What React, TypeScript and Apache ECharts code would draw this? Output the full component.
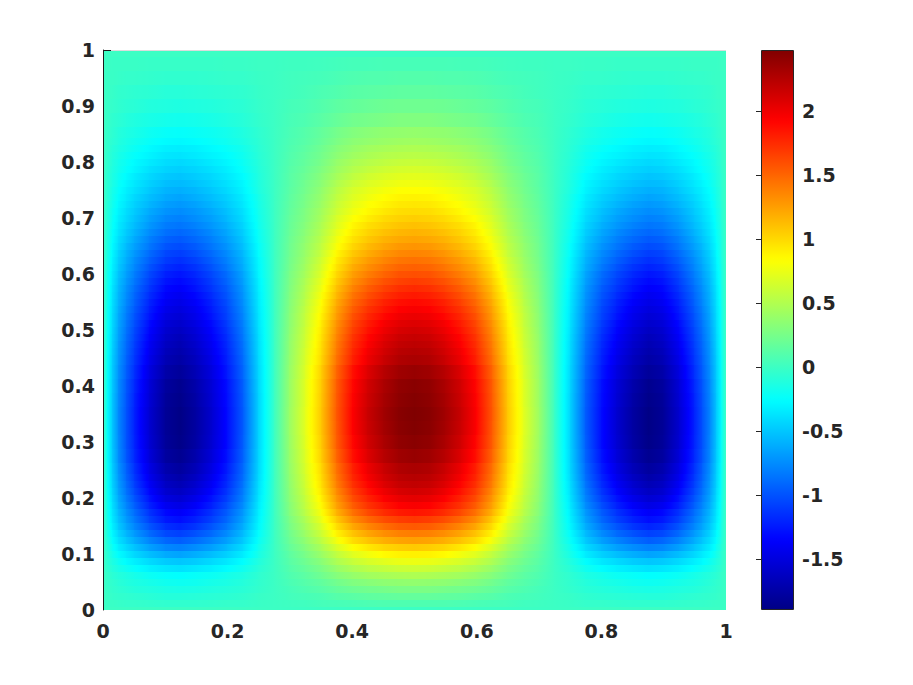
import React, { useEffect, useRef } from "react";
import * as echarts from "echarts";

// Colour scale limits
const colorMin = -1.896;
const colorMax = 2.479;
const jetColors = ["#000084", "#0000ff", "#0080ff", "#00ffff", "#80ff80", "#ffff00", "#ff8000", "#ff0000", "#800000"];

const xTicks = [0, 0.2, 0.4, 0.6, 0.8, 1];
const colorbarTicks = [-1.5, -1, -0.5, 0, 0.5, 1, 1.5, 2];

// Sample positions; the field is mirror symmetric about x = 0.5
const xLeft = [0, .0075, .015, .025, .0375, .05, .075, .1, .125, .15, .175, .2, .225, .25, .275, .3, .325, .35, .375, .4, .425, .45, .475, .5];
const yRows = [0, .0125, .025, .0375, .05, .0625, .075, .0875, .1, .1125, .125, .1375, .15, .1625, .175, .1875, .2, .2125, .225, .2375, .25, .275, .3, .325, .35, .375, .4, .425, .45, .4625, .475, .4875, .5, .5125, .525, .5375, .55, .5625, .575, .5875, .6, .6125, .625, .6375, .65, .6625, .675, .6875, .7, .7125, .725, .7375, .75, .7625, .775, .7875, .8, .8125, .825, .8375, .85, .875, .9, .925, .95, .975, 1];

// One row per yRows entry, one value per xLeft entry
const leftHalf = [
[0,0,0,0,0,0,0,0,0,0,0,0,0,0,0,0,0,0,0,0,0,0,0,0],
[0,-.01,-.01,-.02,-.03,-.03,-.04,-.05,-.05,-.05,-.04,-.03,-.03,-.01,0,.01,.02,.04,.05,.06,.07,.08,.08,.08],
[0,-.01,-.03,-.04,-.05,-.06,-.08,-.1,-.1,-.09,-.08,-.07,-.05,-.02,0,.03,.05,.07,.11,.13,.15,.16,.17,.17],
[0,-.02,-.04,-.06,-.08,-.1,-.12,-.14,-.15,-.14,-.12,-.1,-.08,-.04,0,.04,.08,.12,.17,.21,.23,.25,.27,.27],
[0,-.03,-.05,-.08,-.11,-.13,-.16,-.19,-.2,-.19,-.16,-.14,-.1,-.05,0,.06,.11,.16,.23,.29,.32,.35,.36,.37],
[0,-.03,-.07,-.1,-.13,-.16,-.21,-.24,-.25,-.23,-.21,-.17,-.13,-.06,0,.08,.14,.22,.31,.38,.43,.46,.48,.49],
[0,-.05,-.1,-.15,-.2,-.24,-.31,-.36,-.38,-.35,-.31,-.26,-.19,-.09,0,.1,.18,.27,.39,.48,.54,.58,.61,.62],
[0,-.07,-.13,-.2,-.27,-.32,-.41,-.48,-.5,-.47,-.41,-.35,-.25,-.12,0,.12,.22,.33,.48,.59,.66,.71,.75,.76],
[0,-.08,-.17,-.26,-.34,-.42,-.53,-.62,-.65,-.6,-.53,-.45,-.33,-.16,0,.14,.26,.4,.56,.7,.78,.85,.89,.9],
[0,-.1,-.21,-.32,-.42,-.51,-.66,-.77,-.8,-.74,-.66,-.55,-.4,-.19,0,.17,.31,.47,.67,.83,.93,1.01,1.05,1.07],
[0,-.12,-.25,-.38,-.5,-.61,-.78,-.91,-.95,-.88,-.78,-.66,-.48,-.23,0,.2,.36,.55,.78,.98,1.09,1.18,1.23,1.25],
[0,-.14,-.28,-.43,-.57,-.69,-.89,-1.04,-1.08,-1,-.89,-.75,-.54,-.26,0,.22,.41,.62,.88,1.09,1.22,1.32,1.38,1.4],
[0,-.16,-.31,-.48,-.64,-.77,-.98,-1.15,-1.2,-1.12,-.98,-.83,-.6,-.29,0,.25,.45,.68,.97,1.21,1.35,1.46,1.53,1.55],
[0,-.17,-.34,-.52,-.69,-.83,-1.07,-1.25,-1.3,-1.21,-1.07,-.9,-.65,-.31,0,.27,.49,.75,1.06,1.33,1.48,1.6,1.67,1.7],
[0,-.18,-.36,-.55,-.73,-.88,-1.13,-1.32,-1.38,-1.28,-1.13,-.95,-.69,-.33,0,.3,.54,.81,1.16,1.44,1.61,1.74,1.82,1.85],
[0,-.19,-.38,-.59,-.78,-.94,-1.21,-1.41,-1.47,-1.37,-1.21,-1.01,-.74,-.35,0,.31,.57,.86,1.23,1.53,1.71,1.84,1.93,1.96],
[0,-.2,-.4,-.62,-.82,-.99,-1.27,-1.49,-1.55,-1.44,-1.27,-1.07,-.78,-.37,0,.33,.59,.9,1.28,1.6,1.78,1.93,2.02,2.05],
[0,-.21,-.42,-.65,-.86,-1.04,-1.33,-1.56,-1.62,-1.51,-1.33,-1.12,-.81,-.39,0,.34,.62,.94,1.33,1.66,1.85,2,2.1,2.13],
[0,-.22,-.44,-.67,-.89,-1.08,-1.38,-1.61,-1.68,-1.56,-1.38,-1.16,-.84,-.4,0,.35,.64,.97,1.38,1.72,1.91,2.07,2.17,2.2],
[0,-.22,-.45,-.69,-.92,-1.11,-1.42,-1.66,-1.73,-1.61,-1.42,-1.19,-.87,-.42,0,.36,.65,.99,1.41,1.76,1.96,2.12,2.22,2.25],
[0,-.23,-.46,-.71,-.94,-1.14,-1.46,-1.71,-1.78,-1.66,-1.46,-1.23,-.89,-.43,0,.37,.67,1.01,1.44,1.79,2,2.16,2.27,2.3],
[0,-.24,-.48,-.74,-.98,-1.18,-1.51,-1.77,-1.84,-1.71,-1.51,-1.27,-.92,-.44,0,.38,.69,1.05,1.49,1.86,2.07,2.24,2.34,2.38],
[0,-.24,-.49,-.75,-1,-1.2,-1.54,-1.8,-1.88,-1.75,-1.54,-1.3,-.94,-.45,0,.39,.71,1.07,1.53,1.9,2.12,2.29,2.4,2.44],
[0,-.25,-.49,-.76,-1,-1.21,-1.55,-1.81,-1.89,-1.76,-1.55,-1.3,-.95,-.45,0,.4,.72,1.09,1.54,1.93,2.15,2.32,2.43,2.47],
[0,-.25,-.49,-.76,-1,-1.21,-1.55,-1.81,-1.89,-1.76,-1.55,-1.3,-.95,-.45,0,.4,.72,1.09,1.55,1.93,2.16,2.33,2.44,2.48],
[0,-.24,-.49,-.75,-.99,-1.2,-1.53,-1.8,-1.87,-1.74,-1.53,-1.29,-.94,-.45,0,.39,.71,1.08,1.54,1.92,2.14,2.31,2.42,2.46],
[0,-.24,-.48,-.74,-.98,-1.18,-1.52,-1.78,-1.85,-1.72,-1.52,-1.28,-.93,-.44,0,.39,.71,1.07,1.53,1.9,2.12,2.29,2.4,2.44],
[0,-.23,-.47,-.72,-.95,-1.15,-1.48,-1.73,-1.8,-1.67,-1.48,-1.24,-.9,-.43,0,.38,.69,1.05,1.49,1.86,2.07,2.24,2.34,2.38],
[0,-.23,-.46,-.7,-.93,-1.12,-1.44,-1.68,-1.75,-1.63,-1.44,-1.21,-.88,-.42,0,.37,.67,1.01,1.44,1.79,2,2.16,2.27,2.3],
[0,-.22,-.45,-.69,-.91,-1.1,-1.41,-1.65,-1.72,-1.6,-1.41,-1.19,-.86,-.41,0,.36,.66,.99,1.41,1.76,1.97,2.12,2.23,2.26],
[0,-.22,-.44,-.68,-.9,-1.08,-1.39,-1.62,-1.69,-1.57,-1.39,-1.17,-.85,-.41,0,.36,.64,.98,1.39,1.73,1.93,2.09,2.19,2.22],
[0,-.22,-.43,-.66,-.88,-1.06,-1.36,-1.59,-1.66,-1.54,-1.36,-1.15,-.83,-.4,0,.35,.63,.96,1.36,1.7,1.9,2.05,2.15,2.18],
[0,-.21,-.42,-.65,-.86,-1.04,-1.33,-1.56,-1.62,-1.51,-1.33,-1.12,-.81,-.39,0,.34,.62,.94,1.33,1.66,1.85,2,2.1,2.13],
[0,-.21,-.41,-.63,-.84,-1.01,-1.3,-1.52,-1.58,-1.47,-1.3,-1.09,-.79,-.38,0,.33,.6,.92,1.3,1.62,1.81,1.96,2.05,2.08],
[0,-.2,-.4,-.62,-.82,-.99,-1.26,-1.48,-1.54,-1.43,-1.26,-1.06,-.77,-.37,0,.32,.59,.89,1.26,1.58,1.76,1.9,1.99,2.02],
[0,-.2,-.39,-.6,-.8,-.96,-1.23,-1.44,-1.5,-1.4,-1.23,-1.04,-.75,-.36,0,.31,.57,.86,1.23,1.53,1.71,1.84,1.93,1.96],
[0,-.19,-.38,-.58,-.77,-.93,-1.2,-1.4,-1.46,-1.36,-1.2,-1.01,-.73,-.35,0,.3,.55,.84,1.19,1.48,1.65,1.79,1.87,1.9],
[0,-.18,-.37,-.57,-.75,-.91,-1.16,-1.36,-1.42,-1.32,-1.16,-.98,-.71,-.34,0,.29,.53,.81,1.14,1.43,1.59,1.72,1.8,1.83],
[0,-.18,-.36,-.55,-.73,-.88,-1.12,-1.32,-1.37,-1.27,-1.12,-.95,-.69,-.33,0,.28,.51,.77,1.1,1.37,1.53,1.65,1.73,1.76],
[0,-.17,-.34,-.53,-.7,-.84,-1.08,-1.27,-1.32,-1.23,-1.08,-.91,-.66,-.32,0,.27,.49,.74,1.05,1.31,1.46,1.58,1.65,1.68],
[0,-.17,-.33,-.51,-.67,-.81,-1.04,-1.22,-1.27,-1.18,-1.04,-.88,-.64,-.3,0,.26,.46,.7,1,1.25,1.39,1.5,1.58,1.6],
[0,-.16,-.31,-.48,-.64,-.77,-.99,-1.16,-1.21,-1.13,-.99,-.83,-.6,-.29,0,.24,.44,.67,.95,1.19,1.32,1.43,1.5,1.52],
[0,-.15,-.3,-.46,-.61,-.74,-.94,-1.1,-1.15,-1.07,-.94,-.79,-.58,-.28,0,.23,.42,.64,.91,1.13,1.26,1.36,1.43,1.45],
[0,-.14,-.28,-.44,-.58,-.7,-.89,-1.05,-1.09,-1.01,-.89,-.75,-.55,-.26,0,.22,.4,.6,.86,1.07,1.19,1.29,1.35,1.37],
[0,-.13,-.27,-.41,-.55,-.66,-.84,-.99,-1.03,-.96,-.84,-.71,-.52,-.25,0,.21,.38,.57,.81,1.01,1.13,1.22,1.28,1.3],
[0,-.13,-.25,-.39,-.51,-.62,-.8,-.93,-.97,-.9,-.8,-.67,-.49,-.23,0,.2,.36,.54,.77,.96,1.07,1.16,1.21,1.23],
[0,-.12,-.24,-.36,-.48,-.58,-.75,-.87,-.91,-.85,-.75,-.63,-.46,-.22,0,.19,.34,.51,.73,.91,1.02,1.1,1.15,1.17],
[0,-.11,-.22,-.34,-.45,-.54,-.7,-.82,-.85,-.79,-.7,-.59,-.43,-.2,0,.18,.32,.49,.69,.87,.97,1.04,1.09,1.11],
[0,-.1,-.21,-.32,-.42,-.51,-.66,-.77,-.8,-.74,-.66,-.55,-.4,-.19,0,.17,.3,.46,.66,.82,.91,.99,1.03,1.05],
[0,-.1,-.2,-.3,-.4,-.48,-.62,-.72,-.75,-.7,-.62,-.52,-.38,-.18,0,.16,.29,.44,.62,.77,.86,.93,.98,.99],
[0,-.09,-.18,-.28,-.37,-.45,-.57,-.67,-.7,-.65,-.57,-.48,-.35,-.17,0,.15,.27,.41,.59,.73,.82,.88,.93,.94],
[0,-.08,-.17,-.26,-.34,-.42,-.53,-.62,-.65,-.6,-.53,-.45,-.33,-.16,0,.14,.26,.39,.56,.69,.77,.84,.88,.89],
[0,-.08,-.16,-.24,-.32,-.38,-.49,-.58,-.6,-.56,-.49,-.41,-.3,-.14,0,.13,.24,.37,.53,.66,.73,.79,.83,.84],
[0,-.07,-.14,-.22,-.29,-.35,-.45,-.53,-.55,-.51,-.45,-.38,-.28,-.13,0,.12,.23,.34,.49,.61,.68,.73,.77,.78],
[0,-.07,-.13,-.2,-.27,-.33,-.42,-.49,-.51,-.47,-.42,-.35,-.26,-.12,0,.12,.21,.32,.45,.56,.63,.68,.71,.72],
[0,-.06,-.12,-.18,-.24,-.29,-.38,-.44,-.46,-.43,-.38,-.32,-.23,-.11,0,.11,.19,.29,.41,.51,.57,.62,.65,.66],
[0,-.05,-.11,-.17,-.22,-.27,-.34,-.4,-.42,-.39,-.34,-.29,-.21,-.1,0,.1,.17,.26,.38,.47,.52,.56,.59,.6],
[0,-.05,-.1,-.15,-.2,-.24,-.3,-.36,-.37,-.34,-.3,-.26,-.19,-.09,0,.09,.16,.24,.34,.42,.47,.51,.53,.54],
[0,-.04,-.09,-.13,-.17,-.21,-.27,-.32,-.33,-.31,-.27,-.23,-.17,-.08,0,.08,.14,.22,.31,.38,.43,.46,.48,.49],
[0,-.04,-.07,-.11,-.15,-.18,-.23,-.27,-.28,-.26,-.23,-.19,-.14,-.07,0,.07,.12,.19,.27,.34,.37,.4,.42,.43],
[0,-.03,-.06,-.1,-.13,-.15,-.2,-.23,-.24,-.22,-.2,-.17,-.12,-.06,0,.06,.11,.17,.24,.3,.33,.36,.37,.38],
[0,-.02,-.05,-.07,-.1,-.12,-.15,-.17,-.18,-.17,-.15,-.12,-.09,-.04,0,.05,.08,.13,.18,.23,.25,.27,.29,.29],
[0,-.02,-.03,-.05,-.07,-.08,-.11,-.12,-.13,-.12,-.11,-.09,-.07,-.03,0,.04,.06,.1,.14,.17,.19,.21,.22,.22],
[0,-.01,-.02,-.04,-.05,-.06,-.07,-.09,-.09,-.08,-.07,-.06,-.05,-.02,0,.02,.04,.07,.09,.12,.13,.14,.15,.15],
[0,-.01,-.01,-.02,-.03,-.03,-.04,-.05,-.05,-.05,-.04,-.03,-.03,-.01,0,.02,.03,.04,.06,.08,.09,.09,.1,.1],
[0,0,-.01,-.01,-.01,-.01,-.02,-.02,-.02,-.02,-.02,-.01,-.01,0,0,.01,.01,.02,.03,.04,.04,.05,.05,.05],
[0,0,0,0,0,0,0,0,0,0,0,0,0,0,0,0,0,0,0,0,0,0,0,0],
];

// Full set of columns: the left half and its mirror image
const xAll = [...xLeft, ...xLeft.slice(0, -1).reverse().map((v) => 1 - v)];
const rowsAll = leftHalf.map((r) => [...r, ...r.slice(0, -1).reverse()]);

// A cell runs from one column sample to the next, and over half the gap to the rows either side
const cells: number[][] = [];
rowsAll.forEach((row, j) => {
  const y0 = j === 0 ? yRows[0] : (yRows[j - 1] + yRows[j]) / 2;
  const y1 = j === yRows.length - 1 ? yRows[j] : (yRows[j] + yRows[j + 1]) / 2;
  for (let i = 0; i < xAll.length - 1; i++) cells.push([xAll[i], xAll[i + 1], y0, y1, row[i], row[i + 1]]);
});

const jet = (v: number) => {
  const t = Math.min(1, Math.max(0, (v - colorMin) / (colorMax - colorMin)));
  return echarts.color.lerp(t, jetColors) as string;
};
const STOPS = [0, 0.2, 0.4, 0.6, 0.8, 1];

const TEXT = "#262626";
const labelStyle = { fontFamily: "DejaVu Sans", fontWeight: "bold" as const, fontSize: 19, color: TEXT };

export default function App() {
  const ref = useRef<HTMLDivElement>(null);
  useEffect(() => {
    const chart = echarts.init(ref.current!, undefined, { renderer: "svg" });
    chart.setOption({
      animation: false,
      backgroundColor: "#ffffff",
      grid: [
        { left: 103, top: 50, width: 623, height: 560 },
        { left: 761, top: 50, width: 33, height: 560 },
      ],
      xAxis: [
        {
          type: "value", gridIndex: 0, min: 0, max: 1, interval: 0.2,
          splitLine: { show: false }, axisLine: { show: false }, axisTick: { show: false },
          axisLabel: { ...labelStyle, margin: 11, customValues: xTicks, formatter: (v: number) => String(v) },
        },
        { type: "value", gridIndex: 1, min: 0, max: 1, show: false },
      ],
      yAxis: [
        {
          type: "value", gridIndex: 0, min: 0, max: 1, interval: 0.1, z: 5,
          splitLine: { show: false },
          axisLine: { show: true, onZero: false, lineStyle: { color: "#1a1a1a", width: 1 } },
          axisTick: { show: true, inside: true, length: 8, customValues: [1], lineStyle: { color: "#1a1a1a", width: 1 } },
          axisLabel: { ...labelStyle, margin: 8 },
        },
        {
          type: "value", gridIndex: 1, min: colorMin, max: colorMax, position: "right", z: 6,
          splitLine: { show: false },
          axisLine: { show: false },
          axisTick: { show: true, inside: true, length: 5, customValues: colorbarTicks, lineStyle: { color: TEXT, width: 1 } },
          axisLabel: { ...labelStyle, margin: 8, customValues: colorbarTicks, formatter: (v: number) => String(v) },
        },
      ],
      visualMap: {
        type: "continuous", min: colorMin, max: colorMax, seriesIndex: 0, dimension: 4,
        inRange: { color: jetColors }, calculable: false, hoverLink: false,
        left: 761, top: 50, itemWidth: 33, itemHeight: 560, padding: 0, text: null, z: 3,
      },
      series: [
        {
          type: "custom", xAxisIndex: 0, yAxisIndex: 0, coordinateSystem: "cartesian2d", clip: true, silent: true,
          encode: { x: [0, 1], y: [2, 3] },
          data: cells,
          renderItem: (_p: any, api: any) => {
            const a = api.coord([api.value(0), api.value(2)]);
            const b = api.coord([api.value(1), api.value(3)]);
            const x0 = Math.floor(a[0]);
            const x1 = Math.ceil(b[0]);
            const y0 = Math.floor(b[1]);
            const y1 = Math.ceil(a[1]);
            const v0 = api.value(4);
            const v1 = api.value(5);
            const fill = new echarts.graphic.LinearGradient(0, 0, 1, 0, STOPS.map((t) => ({ offset: t, color: jet(v0 + (v1 - v0) * t) })));
            return { type: "rect", shape: { x: x0, y: y0, width: x1 - x0, height: y1 - y0 }, style: { fill, stroke: null } };
          },
        },
      ],
      graphic: [
        { type: "line", z: 4, silent: true, shape: { x1: 103, y1: 50.5, x2: 726, y2: 50.5 }, style: { stroke: "#dcdcdc", lineWidth: 1 } },
        { type: "rect", z: 10, silent: true, shape: { x: 761.5, y: 50.5, width: 32, height: 559 }, style: { fill: "transparent", stroke: TEXT, lineWidth: 1 } },
      ],
    });
    return () => chart.dispose();
  }, []);
  return <div ref={ref} style={{ position: "absolute", left: 0, top: 0, width: 913, height: 685 }} />;
}
